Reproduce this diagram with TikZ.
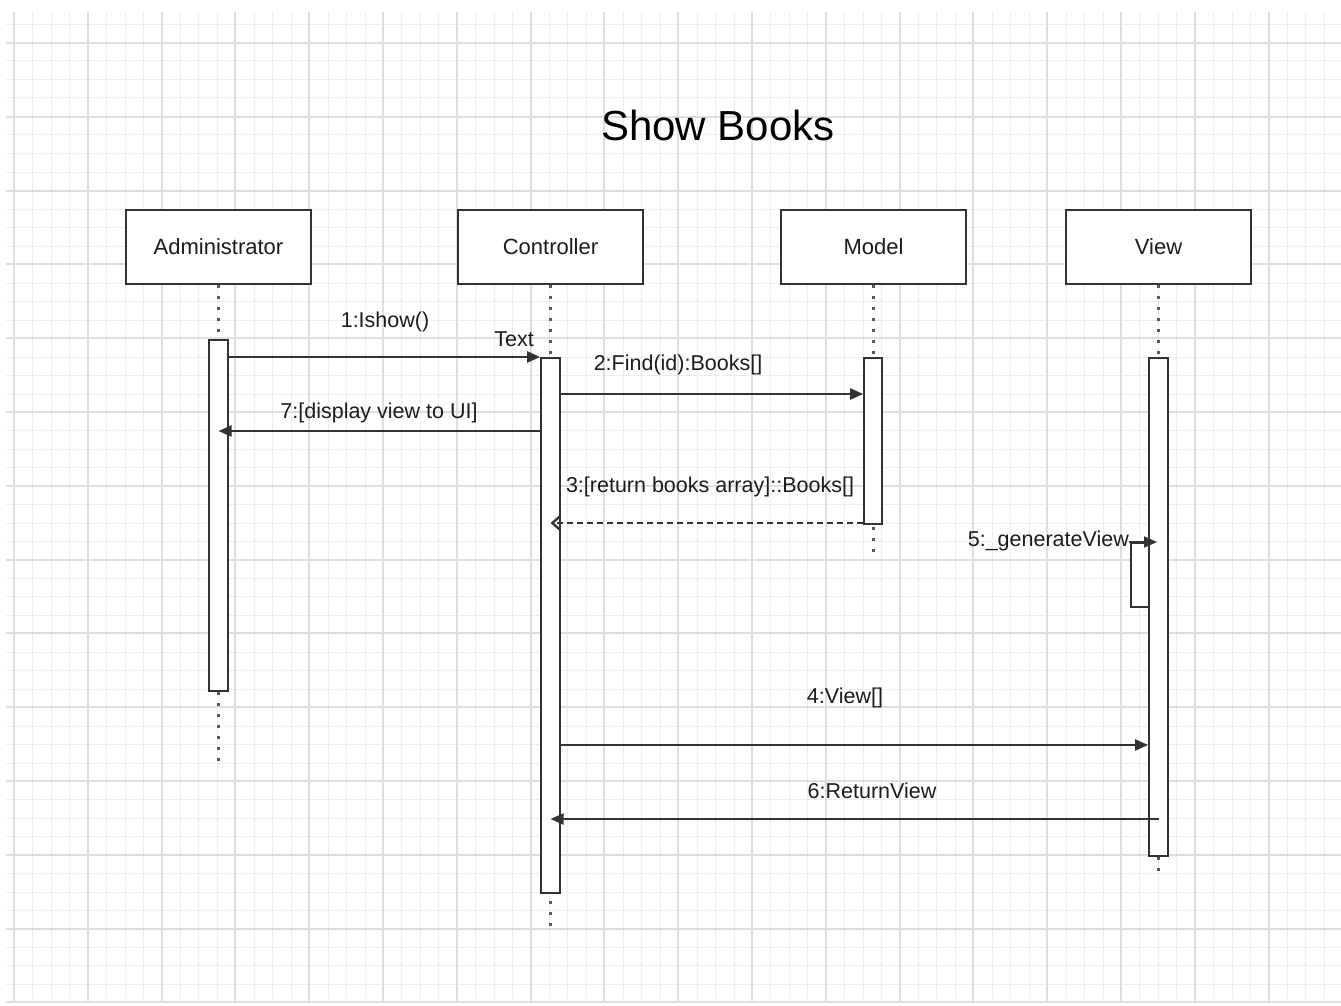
\documentclass[tikz,border=0pt]{standalone}
\usepackage{fontspec}
\setmainfont{Liberation Sans}
\usetikzlibrary{arrows.meta}

\definecolor{gridminor}{HTML}{EDEDED}
\definecolor{gridmajor}{HTML}{DEDEDE}
\definecolor{ink}{HTML}{1C1C1C}
\definecolor{edge}{HTML}{333333}
\definecolor{lifegray}{HTML}{5A5A5A}

\tikzset{
  participant/.style={draw=edge, line width=1.8pt, fill=white, inner sep=0pt,
    minimum width=185pt, minimum height=74pt, text=ink,
    font=\fontsize{22}{26}\selectfont},
  actbar/.style={draw=edge, line width=1.6pt, fill=white, inner sep=0pt,
    minimum width=19pt, anchor=north},
  lifeline/.style={draw=lifegray, line width=2.6pt,
    dash pattern=on 3.5pt off 7.5pt},
  msg/.style={draw=edge, line width=2pt,
    -{Triangle[length=13pt,width=11pt]}},
  retmsg/.style={draw=edge, line width=2pt, dash pattern=on 6pt off 4pt,
    -{Straight Barb[length=8pt,width=14pt,line width=2.4pt]}},
  msglabel/.style={inner sep=0pt, text=ink, font=\fontsize{21.5}{25}\selectfont},
  minorline/.style={draw=gridminor, line width=1pt},
  majorline/.style={draw=gridmajor, line width=1.3pt},
}

\begin{document}
\begin{tikzpicture}[x=1pt, y=-1pt]
  \useasboundingbox (0,0) rectangle (1341,1006);
  \fill[white] (0,0) rectangle (1341,1006);

  % background grid paper (line positions snapped to whole units)
  \begin{scope}
    \clip (6,12) rectangle (1341,1003);
    \foreach \i in {-1,...,72} {
      \pgfmathsetmacro{\gx}{round(14+\i*18.45)}
      \draw[minorline] (\gx,12) -- (\gx,1003);
    }
    \foreach \j in {-2,...,53} {
      \pgfmathsetmacro{\gy}{round(43+\j*18.45)}
      \draw[minorline] (6,\gy) -- (1341,\gy);
    }
    \foreach \i in {0,...,18} {
      \pgfmathsetmacro{\gx}{round(14+\i*73.8)}
      \draw[majorline] (\gx,12) -- (\gx,1003);
    }
    \foreach \j in {0,...,13} {
      \pgfmathsetmacro{\gy}{round(43+\j*73.8)}
      \draw[majorline] (6,\gy) -- (1341,\gy);
    }
  \end{scope}

  % title
  \node[inner sep=0pt, text=black, font=\fontsize{42}{48}\selectfont]
    (title) at (718,125) {Show Books};

  % participants
  \node[participant] (admin) at (218.5,247) {Administrator};
  \node[participant] (ctrl)  at (550.5,247) {Controller};
  \node[participant] (model) at (873.5,247) {Model};
  \node[participant] (view)  at (1158.5,247) {View};

  % lifeline ends
  \coordinate (endA) at (218.5,762);
  \coordinate (endC) at (550.5,930);
  \coordinate (endM) at (873.5,555);
  \coordinate (endV) at (1158.5,875);

  \draw[lifeline] (admin.south) -- (endA);
  \draw[lifeline] (ctrl.south)  -- (endC);
  \draw[lifeline] (model.south) -- (endM);
  \draw[lifeline] (view.south)  -- (endV);

  % activation bars
  \node[actbar, minimum height=351pt] (actA) at (218.5,339) {};
  \node[actbar, minimum height=535pt] (actC) at (550.5,357) {};
  \node[actbar, minimum width=18pt, minimum height=166pt] (actM) at (873,357) {};
  \node[actbar, minimum height=498pt] (actV) at (1158.5,357) {};
  \node[draw=edge, line width=1.6pt, fill=white, inner sep=0pt,
        minimum width=18pt, minimum height=64pt, anchor=north]
        (selfact) at (1140,542) {};

  % message levels
  \coordinate (y1) at (0,357);
  \coordinate (y2) at (0,394);
  \coordinate (y7) at (0,431);
  \coordinate (y3) at (0,523);
  \coordinate (y5) at (0,542);
  \coordinate (y4) at (0,745);
  \coordinate (y6) at (0,819);

  % messages
  \draw[msg] (actA.east |- y1) -- (actC.west |- y1);
  \node[msglabel] (l1) at (385,322) {1:Ishow()};
  \node[msglabel] (ltext) at (514,339) {Text};

  \draw[msg] (actC.east |- y2) -- (actM.west |- y2);
  \node[msglabel] (l2) at (678,365) {2:Find(id):Books[]};

  \draw[msg] (actC.west |- y7) -- (actA |- y7);
  \node[msglabel] (l7) at (379,413) {7:[display view to UI]};

  \draw[retmsg] (actM.west |- y3) -- (actC |- y3);
  \node[msglabel] (l3) at (710,487) {3:[return books array]::Books[]};

  \node[msglabel, anchor=east] (l5) at (1129,541) {5:\_generateView};
  \coordinate (selfend) at (1157,542);
  \draw[msg] (l5.east |- y5) -- (selfend);

  \draw[msg] (actC.east |- y4) -- (actV.west |- y4);
  \node[msglabel] (l4) at (845,698) {4:View[]};

  \draw[msg] (actV |- y6) -- (actC |- y6);
  \node[msglabel] (l6) at (872,791) {6:ReturnView};
\end{tikzpicture}
\end{document}
